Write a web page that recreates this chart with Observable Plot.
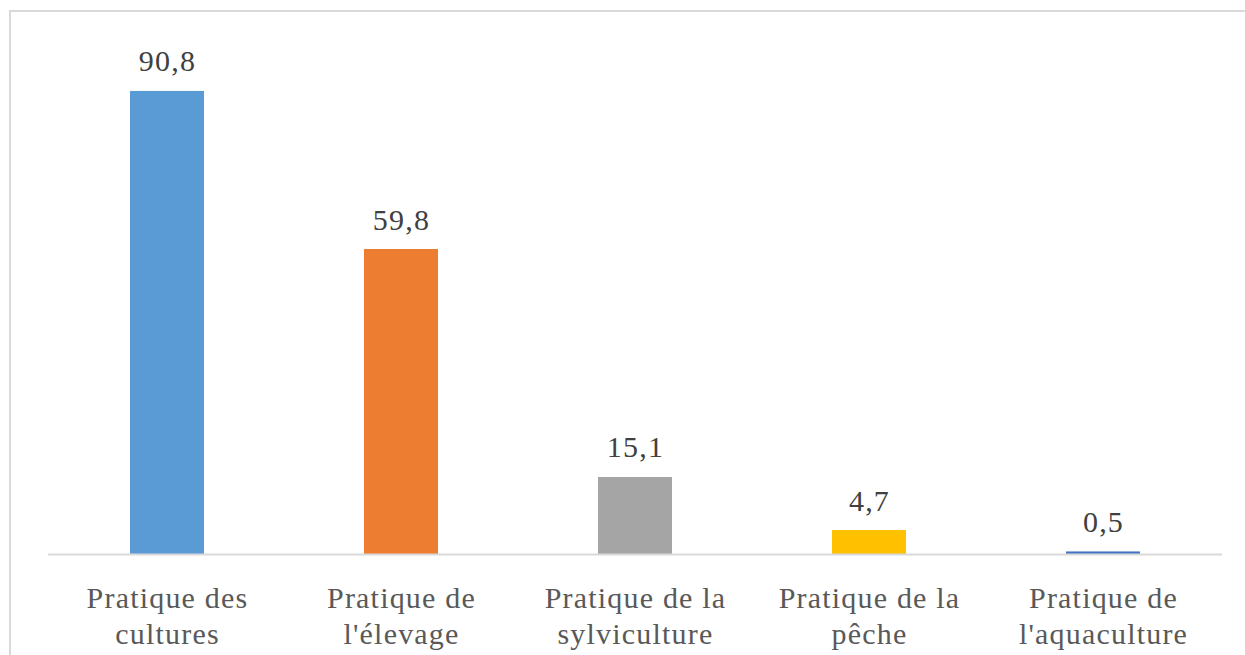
<!DOCTYPE html>
<html>
<head>
<meta charset="utf-8">
<script src="https://cdn.jsdelivr.net/npm/d3@7"></script>
<script src="https://cdn.jsdelivr.net/npm/@observablehq/plot@0.6"></script>
<style>
  html, body { margin: 0; padding: 0; background: #fff; overflow: hidden; }
  #wrap { position: relative; width: 1245px; height: 655px; overflow: hidden; }
  #frame { position: absolute; left: 9px; top: 10px; width: 1400px; height: 800px;
           border: 2.5px solid #d9d9d9; box-sizing: border-box; }
  #chart { position: absolute; left: 0; top: 0; }
  #chart svg text { font-family: "Liberation Serif", Tinos, "Times New Roman", Times, "DejaVu Serif", serif !important; letter-spacing: 1.2px; }
</style>
</head>
<body>
<div id="wrap">
  <div id="frame"></div>
  <div id="chart"></div>
</div>
<script>
const categories = [
  "Pratique des\ncultures",
  "Pratique de\nl'élevage",
  "Pratique de la\nsylviculture",
  "Pratique de la\npêche",
  "Pratique de\nl'aquaculture"
];
const values = [90.8, 59.8, 15.1, 4.7, 0.5];
const labels = ["90,8", "59,8", "15,1", "4,7", "0,5"];
const palette = ["#5B9BD5", "#ED7D31", "#A5A5A5", "#FFC000", "#4472C4"];

const data = categories.map((c, i) => ({cat: c, value: values[i], label: labels[i]}));
const serif = "'Liberation Serif', Tinos, 'Times New Roman', Times, 'DejaVu Serif', serif";

const chart = Plot.plot({
  width: 1245,
  height: 655,
  marginLeft: 48,
  marginRight: 23,
  marginTop: 44,
  marginBottom: 101,
  style: {fontFamily: serif, background: "transparent"},
  x: {domain: categories, paddingInner: 0.685, paddingOuter: 0.3425, axis: null},
  y: {domain: [0, 100], axis: null},
  color: {domain: categories, range: palette},
  marks: [
    Plot.barY(data, {x: "cat", y: "value", fill: "cat"}),
    Plot.ruleY([0], {stroke: "#d9d9d9", strokeWidth: 2}),
    Plot.text(data, {x: "cat", y: "value", text: "label", lineAnchor: "bottom", dy: -20,
      fontSize: 30, fontFamily: serif, fill: "#404040"}),
    Plot.text(data, {x: "cat", y: () => 0, text: "cat", lineAnchor: "top", dy: 28,
      fontSize: 30, fontFamily: serif, lineHeight: 1.2, fill: "#595959"})
  ]
});
document.getElementById("chart").appendChild(chart);
</script>
</body>
</html>
